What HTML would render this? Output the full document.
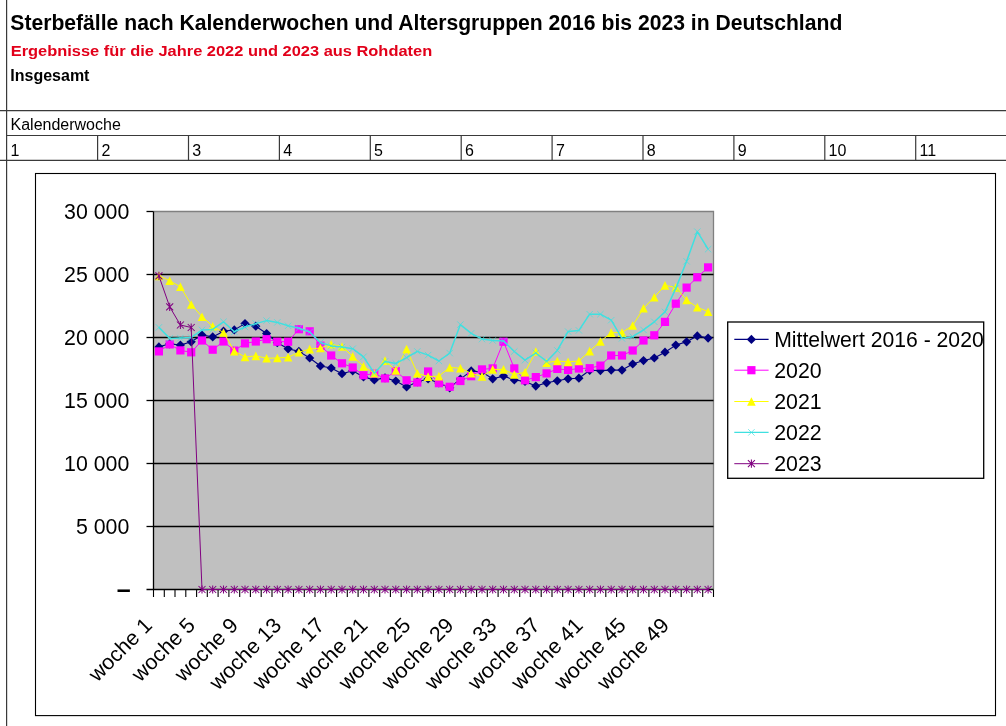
<!DOCTYPE html>
<html lang="de"><head><meta charset="utf-8"><title>Sterbefälle nach Kalenderwochen</title>
<style>html,body{margin:0;padding:0;background:#fff}body{width:1006px;height:726px;overflow:hidden;font-family:"Liberation Sans",Arial,sans-serif}svg{display:block}text{font-family:"Liberation Sans",Arial,sans-serif}</style></head><body>
<svg width="1006" height="726" viewBox="0 0 1006 726">
<rect width="1006" height="726" fill="#fff"/>
<g stroke="#3a3a3a" stroke-width="1.2" fill="none">
<line x1="6.6" y1="0" x2="6.6" y2="726"/>
<line x1="0" y1="110.6" x2="1006" y2="110.6"/>
<line x1="6.6" y1="135.5" x2="1006" y2="135.5"/>
<line x1="0" y1="160.3" x2="1006" y2="160.3"/>
<line x1="97.6" y1="135.5" x2="97.6" y2="160.3"/>
<line x1="188.5" y1="135.5" x2="188.5" y2="160.3"/>
<line x1="279.4" y1="135.5" x2="279.4" y2="160.3"/>
<line x1="370.3" y1="135.5" x2="370.3" y2="160.3"/>
<line x1="461.2" y1="135.5" x2="461.2" y2="160.3"/>
<line x1="552.1" y1="135.5" x2="552.1" y2="160.3"/>
<line x1="643" y1="135.5" x2="643" y2="160.3"/>
<line x1="733.9" y1="135.5" x2="733.9" y2="160.3"/>
<line x1="824.8" y1="135.5" x2="824.8" y2="160.3"/>
<line x1="915.7" y1="135.5" x2="915.7" y2="160.3"/>
</g>
<text x="10.3" y="30.2" font-size="22.5" textLength="832" lengthAdjust="spacingAndGlyphs" font-weight="bold" fill="#000" id="t1">Sterbefälle nach Kalenderwochen und Altersgruppen 2016 bis 2023 in Deutschland</text>
<text x="10.7" y="55.5" font-size="15" textLength="421.5" lengthAdjust="spacingAndGlyphs" font-weight="bold" fill="#e2001a" id="t2">Ergebnisse für die Jahre 2022 und 2023 aus Rohdaten</text>
<text x="10.3" y="80.8" font-size="16" font-weight="bold" fill="#000" id="t3">Insgesamt</text>
<text x="10.5" y="130.4" font-size="16" fill="#000" id="t4">Kalenderwoche</text>
<text x="10.5" y="155.5" font-size="16" fill="#000">1</text>
<text x="101.4" y="155.5" font-size="16" fill="#000">2</text>
<text x="192.3" y="155.5" font-size="16" fill="#000">3</text>
<text x="283.2" y="155.5" font-size="16" fill="#000">4</text>
<text x="374.1" y="155.5" font-size="16" fill="#000">5</text>
<text x="465" y="155.5" font-size="16" fill="#000">6</text>
<text x="555.9" y="155.5" font-size="16" fill="#000">7</text>
<text x="646.8" y="155.5" font-size="16" fill="#000">8</text>
<text x="737.7" y="155.5" font-size="16" fill="#000">9</text>
<text x="828.6" y="155.5" font-size="16" fill="#000">10</text>
<text x="919.5" y="155.5" font-size="16" fill="#000">11</text>
<rect x="35.5" y="173.5" width="960" height="542.1" fill="#fff" stroke="#000" stroke-width="1.1"/>
<rect x="153.5" y="211.5" width="560.0" height="378.0" fill="#c0c0c0"/>
<path d="M153.5 211.5H713.5V589.5" fill="none" stroke="#808080" stroke-width="1.3"/>
<g stroke="#000" stroke-width="1.3">
<line x1="153.5" y1="526.5" x2="713.5" y2="526.5"/>
<line x1="153.5" y1="463.5" x2="713.5" y2="463.5"/>
<line x1="153.5" y1="400.5" x2="713.5" y2="400.5"/>
<line x1="153.5" y1="337.5" x2="713.5" y2="337.5"/>
<line x1="153.5" y1="274.5" x2="713.5" y2="274.5"/>
</g>
<g stroke="#000" stroke-width="1.3">
<line x1="153.5" y1="211.5" x2="153.5" y2="589.5"/>
<line x1="146.5" y1="589.5" x2="713.5" y2="589.5"/>
<line x1="146.5" y1="526.5" x2="153.5" y2="526.5"/>
<line x1="146.5" y1="463.5" x2="153.5" y2="463.5"/>
<line x1="146.5" y1="400.5" x2="153.5" y2="400.5"/>
<line x1="146.5" y1="337.5" x2="153.5" y2="337.5"/>
<line x1="146.5" y1="274.5" x2="153.5" y2="274.5"/>
<line x1="146.5" y1="211.5" x2="153.5" y2="211.5"/>
<line x1="153.5" y1="589.5" x2="153.5" y2="597.0" stroke-width="1.1"/>
<line x1="164.3" y1="589.5" x2="164.3" y2="597.0" stroke-width="1.1"/>
<line x1="175" y1="589.5" x2="175" y2="597.0" stroke-width="1.1"/>
<line x1="185.8" y1="589.5" x2="185.8" y2="597.0" stroke-width="1.1"/>
<line x1="196.6" y1="589.5" x2="196.6" y2="597.0" stroke-width="1.1"/>
<line x1="207.3" y1="589.5" x2="207.3" y2="597.0" stroke-width="1.1"/>
<line x1="218.1" y1="589.5" x2="218.1" y2="597.0" stroke-width="1.1"/>
<line x1="228.9" y1="589.5" x2="228.9" y2="597.0" stroke-width="1.1"/>
<line x1="239.7" y1="589.5" x2="239.7" y2="597.0" stroke-width="1.1"/>
<line x1="250.4" y1="589.5" x2="250.4" y2="597.0" stroke-width="1.1"/>
<line x1="261.2" y1="589.5" x2="261.2" y2="597.0" stroke-width="1.1"/>
<line x1="272" y1="589.5" x2="272" y2="597.0" stroke-width="1.1"/>
<line x1="282.7" y1="589.5" x2="282.7" y2="597.0" stroke-width="1.1"/>
<line x1="293.5" y1="589.5" x2="293.5" y2="597.0" stroke-width="1.1"/>
<line x1="304.3" y1="589.5" x2="304.3" y2="597.0" stroke-width="1.1"/>
<line x1="315" y1="589.5" x2="315" y2="597.0" stroke-width="1.1"/>
<line x1="325.8" y1="589.5" x2="325.8" y2="597.0" stroke-width="1.1"/>
<line x1="336.6" y1="589.5" x2="336.6" y2="597.0" stroke-width="1.1"/>
<line x1="347.3" y1="589.5" x2="347.3" y2="597.0" stroke-width="1.1"/>
<line x1="358.1" y1="589.5" x2="358.1" y2="597.0" stroke-width="1.1"/>
<line x1="368.9" y1="589.5" x2="368.9" y2="597.0" stroke-width="1.1"/>
<line x1="379.7" y1="589.5" x2="379.7" y2="597.0" stroke-width="1.1"/>
<line x1="390.4" y1="589.5" x2="390.4" y2="597.0" stroke-width="1.1"/>
<line x1="401.2" y1="589.5" x2="401.2" y2="597.0" stroke-width="1.1"/>
<line x1="412" y1="589.5" x2="412" y2="597.0" stroke-width="1.1"/>
<line x1="422.7" y1="589.5" x2="422.7" y2="597.0" stroke-width="1.1"/>
<line x1="433.5" y1="589.5" x2="433.5" y2="597.0" stroke-width="1.1"/>
<line x1="444.3" y1="589.5" x2="444.3" y2="597.0" stroke-width="1.1"/>
<line x1="455" y1="589.5" x2="455" y2="597.0" stroke-width="1.1"/>
<line x1="465.8" y1="589.5" x2="465.8" y2="597.0" stroke-width="1.1"/>
<line x1="476.6" y1="589.5" x2="476.6" y2="597.0" stroke-width="1.1"/>
<line x1="487.3" y1="589.5" x2="487.3" y2="597.0" stroke-width="1.1"/>
<line x1="498.1" y1="589.5" x2="498.1" y2="597.0" stroke-width="1.1"/>
<line x1="508.9" y1="589.5" x2="508.9" y2="597.0" stroke-width="1.1"/>
<line x1="519.7" y1="589.5" x2="519.7" y2="597.0" stroke-width="1.1"/>
<line x1="530.4" y1="589.5" x2="530.4" y2="597.0" stroke-width="1.1"/>
<line x1="541.2" y1="589.5" x2="541.2" y2="597.0" stroke-width="1.1"/>
<line x1="552" y1="589.5" x2="552" y2="597.0" stroke-width="1.1"/>
<line x1="562.7" y1="589.5" x2="562.7" y2="597.0" stroke-width="1.1"/>
<line x1="573.5" y1="589.5" x2="573.5" y2="597.0" stroke-width="1.1"/>
<line x1="584.3" y1="589.5" x2="584.3" y2="597.0" stroke-width="1.1"/>
<line x1="595" y1="589.5" x2="595" y2="597.0" stroke-width="1.1"/>
<line x1="605.8" y1="589.5" x2="605.8" y2="597.0" stroke-width="1.1"/>
<line x1="616.6" y1="589.5" x2="616.6" y2="597.0" stroke-width="1.1"/>
<line x1="627.3" y1="589.5" x2="627.3" y2="597.0" stroke-width="1.1"/>
<line x1="638.1" y1="589.5" x2="638.1" y2="597.0" stroke-width="1.1"/>
<line x1="648.9" y1="589.5" x2="648.9" y2="597.0" stroke-width="1.1"/>
<line x1="659.7" y1="589.5" x2="659.7" y2="597.0" stroke-width="1.1"/>
<line x1="670.4" y1="589.5" x2="670.4" y2="597.0" stroke-width="1.1"/>
<line x1="681.2" y1="589.5" x2="681.2" y2="597.0" stroke-width="1.1"/>
<line x1="692" y1="589.5" x2="692" y2="597.0" stroke-width="1.1"/>
<line x1="702.7" y1="589.5" x2="702.7" y2="597.0" stroke-width="1.1"/>
<line x1="713.5" y1="589.5" x2="713.5" y2="597.0" stroke-width="1.1"/>
</g>
<g font-size="21.33" fill="#000" text-anchor="end">
<text x="129.3" y="218.8">30 000</text>
<text x="129.3" y="281.8">25 000</text>
<text x="129.3" y="344.8">20 000</text>
<text x="129.3" y="407.8">15 000</text>
<text x="129.3" y="470.8">10 000</text>
<text x="129.3" y="533.8">5 000</text>
<text x="130.6" y="598.1" font-size="25" font-weight="bold">–</text>
</g>
<g font-size="21.33" fill="#000" text-anchor="end">
<text transform="translate(153.4 626.5) rotate(-45)" x="0" y="0">woche 1</text>
<text transform="translate(196.5 626.5) rotate(-45)" x="0" y="0">woche 5</text>
<text transform="translate(239.5 626.5) rotate(-45)" x="0" y="0">woche 9</text>
<text transform="translate(282.6 626.5) rotate(-45)" x="0" y="0">woche 13</text>
<text transform="translate(325.7 626.5) rotate(-45)" x="0" y="0">woche 17</text>
<text transform="translate(368.8 626.5) rotate(-45)" x="0" y="0">woche 21</text>
<text transform="translate(411.8 626.5) rotate(-45)" x="0" y="0">woche 25</text>
<text transform="translate(454.9 626.5) rotate(-45)" x="0" y="0">woche 29</text>
<text transform="translate(498 626.5) rotate(-45)" x="0" y="0">woche 33</text>
<text transform="translate(541.1 626.5) rotate(-45)" x="0" y="0">woche 37</text>
<text transform="translate(584.2 626.5) rotate(-45)" x="0" y="0">woche 41</text>
<text transform="translate(627.2 626.5) rotate(-45)" x="0" y="0">woche 45</text>
<text transform="translate(670.3 626.5) rotate(-45)" x="0" y="0">woche 49</text>
</g>
<g>
<polyline points="158.9,346.9 169.7,343.8 180.4,345.1 191.2,341.8 202,335 212.7,336.9 223.5,331.2 234.3,329.9 245,323.6 255.8,326.2 266.6,333.5 277.3,342.7 288.1,348.8 298.9,351.4 309.7,358 320.4,366 331.2,368 342,373.7 352.7,370.8 363.5,376.9 374.3,379.9 385,377.9 395.8,381 406.6,386.9 417.3,381.8 428.1,379 438.9,382.9 449.7,387.8 460.4,379.1 471.2,370.9 482,372.1 492.7,378.8 503.5,376.1 514.3,380 525,381.4 535.8,386.1 546.6,382.8 557.3,380.8 568.1,378.8 578.9,378.2 589.7,370.3 600.4,370.6 611.2,370.1 622,370.1 632.7,364 643.5,360.6 654.3,358 665,352.2 675.8,345.1 686.6,341.8 697.3,335.9 708.1,338.1" fill="none" stroke="#000080" stroke-width="1.1" stroke-linejoin="round"/>
<path d="M158.9 342.3L163.5 346.9L158.9 351.6L154.3 346.9Z" fill="#000080"/><path d="M169.7 339.2L174.3 343.8L169.7 348.4L165.1 343.8Z" fill="#000080"/><path d="M180.4 340.5L185 345.1L180.4 349.7L175.8 345.1Z" fill="#000080"/><path d="M191.2 337.2L195.8 341.8L191.2 346.4L186.6 341.8Z" fill="#000080"/><path d="M202 330.4L206.6 335L202 339.6L197.4 335Z" fill="#000080"/><path d="M212.7 332.3L217.3 336.9L212.7 341.5L208.1 336.9Z" fill="#000080"/><path d="M223.5 326.6L228.1 331.2L223.5 335.8L218.9 331.2Z" fill="#000080"/><path d="M234.3 325.3L238.9 329.9L234.3 334.5L229.7 329.9Z" fill="#000080"/><path d="M245 319L249.6 323.6L245 328.2L240.4 323.6Z" fill="#000080"/><path d="M255.8 321.6L260.4 326.2L255.8 330.8L251.2 326.2Z" fill="#000080"/><path d="M266.6 328.9L271.2 333.5L266.6 338.1L262 333.5Z" fill="#000080"/><path d="M277.3 338.1L281.9 342.7L277.3 347.3L272.7 342.7Z" fill="#000080"/><path d="M288.1 344.2L292.7 348.8L288.1 353.4L283.5 348.8Z" fill="#000080"/><path d="M298.9 346.8L303.5 351.4L298.9 356L294.3 351.4Z" fill="#000080"/><path d="M309.7 353.4L314.3 358L309.7 362.6L305.1 358Z" fill="#000080"/><path d="M320.4 361.4L325 366L320.4 370.6L315.8 366Z" fill="#000080"/><path d="M331.2 363.4L335.8 368L331.2 372.6L326.6 368Z" fill="#000080"/><path d="M342 369.1L346.6 373.7L342 378.3L337.4 373.7Z" fill="#000080"/><path d="M352.7 366.2L357.3 370.8L352.7 375.4L348.1 370.8Z" fill="#000080"/><path d="M363.5 372.3L368.1 376.9L363.5 381.5L358.9 376.9Z" fill="#000080"/><path d="M374.3 375.3L378.9 379.9L374.3 384.5L369.7 379.9Z" fill="#000080"/><path d="M385 373.3L389.6 377.9L385 382.5L380.4 377.9Z" fill="#000080"/><path d="M395.8 376.4L400.4 381L395.8 385.6L391.2 381Z" fill="#000080"/><path d="M406.6 382.3L411.2 386.9L406.6 391.5L402 386.9Z" fill="#000080"/><path d="M417.3 377.2L421.9 381.8L417.3 386.4L412.7 381.8Z" fill="#000080"/><path d="M428.1 374.4L432.7 379L428.1 383.6L423.5 379Z" fill="#000080"/><path d="M438.9 378.3L443.5 382.9L438.9 387.5L434.3 382.9Z" fill="#000080"/><path d="M449.7 383.2L454.3 387.8L449.7 392.4L445.1 387.8Z" fill="#000080"/><path d="M460.4 374.5L465 379.1L460.4 383.7L455.8 379.1Z" fill="#000080"/><path d="M471.2 366.3L475.8 370.9L471.2 375.5L466.6 370.9Z" fill="#000080"/><path d="M482 367.5L486.6 372.1L482 376.8L477.4 372.1Z" fill="#000080"/><path d="M492.7 374.2L497.3 378.8L492.7 383.4L488.1 378.8Z" fill="#000080"/><path d="M503.5 371.5L508.1 376.1L503.5 380.7L498.9 376.1Z" fill="#000080"/><path d="M514.3 375.4L518.9 380L514.3 384.6L509.7 380Z" fill="#000080"/><path d="M525 376.8L529.6 381.4L525 386L520.4 381.4Z" fill="#000080"/><path d="M535.8 381.5L540.4 386.1L535.8 390.7L531.2 386.1Z" fill="#000080"/><path d="M546.6 378.2L551.2 382.8L546.6 387.4L542 382.8Z" fill="#000080"/><path d="M557.3 376.2L561.9 380.8L557.3 385.4L552.7 380.8Z" fill="#000080"/><path d="M568.1 374.2L572.7 378.8L568.1 383.4L563.5 378.8Z" fill="#000080"/><path d="M578.9 373.6L583.5 378.2L578.9 382.8L574.3 378.2Z" fill="#000080"/><path d="M589.7 365.7L594.3 370.3L589.7 374.9L585.1 370.3Z" fill="#000080"/><path d="M600.4 366L605 370.6L600.4 375.2L595.8 370.6Z" fill="#000080"/><path d="M611.2 365.5L615.8 370.1L611.2 374.7L606.6 370.1Z" fill="#000080"/><path d="M622 365.5L626.6 370.1L622 374.7L617.4 370.1Z" fill="#000080"/><path d="M632.7 359.4L637.3 364L632.7 368.6L628.1 364Z" fill="#000080"/><path d="M643.5 356L648.1 360.6L643.5 365.2L638.9 360.6Z" fill="#000080"/><path d="M654.3 353.4L658.9 358L654.3 362.6L649.7 358Z" fill="#000080"/><path d="M665 347.6L669.6 352.2L665 356.8L660.4 352.2Z" fill="#000080"/><path d="M675.8 340.5L680.4 345.1L675.8 349.7L671.2 345.1Z" fill="#000080"/><path d="M686.6 337.2L691.2 341.8L686.6 346.4L682 341.8Z" fill="#000080"/><path d="M697.3 331.3L701.9 335.9L697.3 340.5L692.7 335.9Z" fill="#000080"/><path d="M708.1 333.5L712.7 338.1L708.1 342.7L703.5 338.1Z" fill="#000080"/>
</g>
<g>
<polyline points="158.9,351.4 169.7,344.4 180.4,350.4 191.2,352.3 202,340.5 212.7,349.7 223.5,341.5 234.3,350.6 245,343.4 255.8,341.5 266.6,339.2 277.3,341.7 288.1,341.7 298.9,329.2 309.7,331.3 320.4,345.7 331.2,355.5 342,363.3 352.7,367.5 363.5,375.2 374.3,373.7 385,378.4 395.8,371.2 406.6,380.3 417.3,382.5 428.1,371.5 438.9,383.2 449.7,386.8 460.4,381 471.2,376.2 482,369.4 492.7,368.4 503.5,341.7 514.3,368.4 525,380.3 535.8,377.1 546.6,373.4 557.3,368.9 568.1,369.9 578.9,368.5 589.7,368.2 600.4,365.6 611.2,355.5 622,355.5 632.7,350.5 643.5,340.5 654.3,335.3 665,321.9 675.8,303.7 686.6,287.6 697.3,277.3 708.1,267.4" fill="none" stroke="#ff00ff" stroke-width="1.0" stroke-linejoin="round"/>
<rect x="154.8" y="347.3" width="8.2" height="8.2" fill="#ff00ff"/><rect x="165.6" y="340.3" width="8.2" height="8.2" fill="#ff00ff"/><rect x="176.3" y="346.3" width="8.2" height="8.2" fill="#ff00ff"/><rect x="187.1" y="348.2" width="8.2" height="8.2" fill="#ff00ff"/><rect x="197.9" y="336.4" width="8.2" height="8.2" fill="#ff00ff"/><rect x="208.6" y="345.6" width="8.2" height="8.2" fill="#ff00ff"/><rect x="219.4" y="337.4" width="8.2" height="8.2" fill="#ff00ff"/><rect x="230.2" y="346.5" width="8.2" height="8.2" fill="#ff00ff"/><rect x="240.9" y="339.3" width="8.2" height="8.2" fill="#ff00ff"/><rect x="251.7" y="337.4" width="8.2" height="8.2" fill="#ff00ff"/><rect x="262.5" y="335.1" width="8.2" height="8.2" fill="#ff00ff"/><rect x="273.2" y="337.6" width="8.2" height="8.2" fill="#ff00ff"/><rect x="284" y="337.6" width="8.2" height="8.2" fill="#ff00ff"/><rect x="294.8" y="325.1" width="8.2" height="8.2" fill="#ff00ff"/><rect x="305.6" y="327.2" width="8.2" height="8.2" fill="#ff00ff"/><rect x="316.3" y="341.6" width="8.2" height="8.2" fill="#ff00ff"/><rect x="327.1" y="351.4" width="8.2" height="8.2" fill="#ff00ff"/><rect x="337.9" y="359.2" width="8.2" height="8.2" fill="#ff00ff"/><rect x="348.6" y="363.4" width="8.2" height="8.2" fill="#ff00ff"/><rect x="359.4" y="371.1" width="8.2" height="8.2" fill="#ff00ff"/><rect x="370.2" y="369.6" width="8.2" height="8.2" fill="#ff00ff"/><rect x="380.9" y="374.3" width="8.2" height="8.2" fill="#ff00ff"/><rect x="391.7" y="367.1" width="8.2" height="8.2" fill="#ff00ff"/><rect x="402.5" y="376.2" width="8.2" height="8.2" fill="#ff00ff"/><rect x="413.2" y="378.4" width="8.2" height="8.2" fill="#ff00ff"/><rect x="424" y="367.4" width="8.2" height="8.2" fill="#ff00ff"/><rect x="434.8" y="379.1" width="8.2" height="8.2" fill="#ff00ff"/><rect x="445.6" y="382.7" width="8.2" height="8.2" fill="#ff00ff"/><rect x="456.3" y="376.9" width="8.2" height="8.2" fill="#ff00ff"/><rect x="467.1" y="372.1" width="8.2" height="8.2" fill="#ff00ff"/><rect x="477.9" y="365.3" width="8.2" height="8.2" fill="#ff00ff"/><rect x="488.6" y="364.3" width="8.2" height="8.2" fill="#ff00ff"/><rect x="499.4" y="337.6" width="8.2" height="8.2" fill="#ff00ff"/><rect x="510.2" y="364.3" width="8.2" height="8.2" fill="#ff00ff"/><rect x="520.9" y="376.2" width="8.2" height="8.2" fill="#ff00ff"/><rect x="531.7" y="373" width="8.2" height="8.2" fill="#ff00ff"/><rect x="542.5" y="369.3" width="8.2" height="8.2" fill="#ff00ff"/><rect x="553.2" y="364.8" width="8.2" height="8.2" fill="#ff00ff"/><rect x="564" y="365.8" width="8.2" height="8.2" fill="#ff00ff"/><rect x="574.8" y="364.4" width="8.2" height="8.2" fill="#ff00ff"/><rect x="585.6" y="364.1" width="8.2" height="8.2" fill="#ff00ff"/><rect x="596.3" y="361.5" width="8.2" height="8.2" fill="#ff00ff"/><rect x="607.1" y="351.4" width="8.2" height="8.2" fill="#ff00ff"/><rect x="617.9" y="351.4" width="8.2" height="8.2" fill="#ff00ff"/><rect x="628.6" y="346.4" width="8.2" height="8.2" fill="#ff00ff"/><rect x="639.4" y="336.4" width="8.2" height="8.2" fill="#ff00ff"/><rect x="650.2" y="331.2" width="8.2" height="8.2" fill="#ff00ff"/><rect x="660.9" y="317.8" width="8.2" height="8.2" fill="#ff00ff"/><rect x="671.7" y="299.6" width="8.2" height="8.2" fill="#ff00ff"/><rect x="682.5" y="283.5" width="8.2" height="8.2" fill="#ff00ff"/><rect x="693.2" y="273.2" width="8.2" height="8.2" fill="#ff00ff"/><rect x="704" y="263.3" width="8.2" height="8.2" fill="#ff00ff"/>
</g>
<g>
<polyline points="158.9,275.9 169.7,280.7 180.4,286.8 191.2,304.5 202,316.7 212.7,326.3 223.5,332.5 234.3,351.1 245,357 255.8,355.9 266.6,358.2 277.3,358 288.1,357.2 298.9,352.2 309.7,349.1 320.4,348 331.2,344.3 342,346.5 352.7,356.4 363.5,366.4 374.3,373.3 385,360.6 395.8,370.4 406.6,349 417.3,373.3 428.1,376.6 438.9,376.1 449.7,367.5 460.4,368.2 471.2,373.3 482,376.4 492.7,369.4 503.5,369.4 514.3,374.5 525,372.3 535.8,351.5 546.6,362.6 557.3,361 568.1,361.9 578.9,361 589.7,351.1 600.4,341.5 611.2,332.6 622,332.6 632.7,325.5 643.5,308.3 654.3,297.2 665,285.4 675.8,287.4 686.6,300 697.3,307.3 708.1,311.7" fill="none" stroke="#ffff00" stroke-width="1.0" stroke-linejoin="round"/>
<path d="M158.9 271.6L163.2 280.2L154.6 280.2Z" fill="#ffff00"/><path d="M169.7 276.4L174 285L165.4 285Z" fill="#ffff00"/><path d="M180.4 282.5L184.7 291.1L176.1 291.1Z" fill="#ffff00"/><path d="M191.2 300.2L195.5 308.8L186.9 308.8Z" fill="#ffff00"/><path d="M202 312.4L206.3 321L197.7 321Z" fill="#ffff00"/><path d="M212.7 322L217 330.6L208.4 330.6Z" fill="#ffff00"/><path d="M223.5 328.2L227.8 336.8L219.2 336.8Z" fill="#ffff00"/><path d="M234.3 346.8L238.6 355.4L230 355.4Z" fill="#ffff00"/><path d="M245 352.7L249.3 361.3L240.7 361.3Z" fill="#ffff00"/><path d="M255.8 351.6L260.1 360.2L251.5 360.2Z" fill="#ffff00"/><path d="M266.6 353.9L270.9 362.5L262.3 362.5Z" fill="#ffff00"/><path d="M277.3 353.7L281.6 362.3L273 362.3Z" fill="#ffff00"/><path d="M288.1 352.9L292.4 361.5L283.8 361.5Z" fill="#ffff00"/><path d="M298.9 347.9L303.2 356.5L294.6 356.5Z" fill="#ffff00"/><path d="M309.7 344.8L314 353.4L305.4 353.4Z" fill="#ffff00"/><path d="M320.4 343.7L324.7 352.3L316.1 352.3Z" fill="#ffff00"/><path d="M331.2 340L335.5 348.6L326.9 348.6Z" fill="#ffff00"/><path d="M342 342.2L346.3 350.8L337.7 350.8Z" fill="#ffff00"/><path d="M352.7 352.1L357 360.7L348.4 360.7Z" fill="#ffff00"/><path d="M363.5 362.1L367.8 370.7L359.2 370.7Z" fill="#ffff00"/><path d="M374.3 369L378.6 377.6L370 377.6Z" fill="#ffff00"/><path d="M385 356.3L389.3 364.9L380.7 364.9Z" fill="#ffff00"/><path d="M395.8 366.1L400.1 374.7L391.5 374.7Z" fill="#ffff00"/><path d="M406.6 344.7L410.9 353.3L402.3 353.3Z" fill="#ffff00"/><path d="M417.3 369L421.6 377.6L413 377.6Z" fill="#ffff00"/><path d="M428.1 372.3L432.4 380.9L423.8 380.9Z" fill="#ffff00"/><path d="M438.9 371.8L443.2 380.4L434.6 380.4Z" fill="#ffff00"/><path d="M449.7 363.2L454 371.8L445.4 371.8Z" fill="#ffff00"/><path d="M460.4 363.9L464.7 372.5L456.1 372.5Z" fill="#ffff00"/><path d="M471.2 369L475.5 377.6L466.9 377.6Z" fill="#ffff00"/><path d="M482 372.1L486.3 380.7L477.7 380.7Z" fill="#ffff00"/><path d="M492.7 365.1L497 373.7L488.4 373.7Z" fill="#ffff00"/><path d="M503.5 365.1L507.8 373.7L499.2 373.7Z" fill="#ffff00"/><path d="M514.3 370.2L518.6 378.8L510 378.8Z" fill="#ffff00"/><path d="M525 368L529.3 376.6L520.7 376.6Z" fill="#ffff00"/><path d="M535.8 347.2L540.1 355.8L531.5 355.8Z" fill="#ffff00"/><path d="M546.6 358.3L550.9 366.9L542.3 366.9Z" fill="#ffff00"/><path d="M557.3 356.7L561.6 365.3L553 365.3Z" fill="#ffff00"/><path d="M568.1 357.6L572.4 366.2L563.8 366.2Z" fill="#ffff00"/><path d="M578.9 356.7L583.2 365.3L574.6 365.3Z" fill="#ffff00"/><path d="M589.7 346.8L594 355.4L585.4 355.4Z" fill="#ffff00"/><path d="M600.4 337.2L604.7 345.8L596.1 345.8Z" fill="#ffff00"/><path d="M611.2 328.3L615.5 336.9L606.9 336.9Z" fill="#ffff00"/><path d="M622 328.3L626.3 336.9L617.7 336.9Z" fill="#ffff00"/><path d="M632.7 321.2L637 329.8L628.4 329.8Z" fill="#ffff00"/><path d="M643.5 304L647.8 312.6L639.2 312.6Z" fill="#ffff00"/><path d="M654.3 292.9L658.6 301.5L650 301.5Z" fill="#ffff00"/><path d="M665 281.1L669.3 289.7L660.7 289.7Z" fill="#ffff00"/><path d="M675.8 283.1L680.1 291.7L671.5 291.7Z" fill="#ffff00"/><path d="M686.6 295.7L690.9 304.3L682.3 304.3Z" fill="#ffff00"/><path d="M697.3 303L701.6 311.6L693 311.6Z" fill="#ffff00"/><path d="M708.1 307.4L712.4 316L703.8 316Z" fill="#ffff00"/>
</g>
<g>
<polyline points="158.9,327.4 169.7,338.4 180.4,338.1 191.2,337.6 202,329.9 212.7,329.4 223.5,321.8 234.3,331.8 245,327 255.8,323.6 266.6,320.6 277.3,322.4 288.1,325.8 298.9,328.2 309.7,332 320.4,342.5 331.2,345.9 342,346.9 352.7,348.7 363.5,356.8 374.3,373.2 385,361.5 395.8,363.5 406.6,357.7 417.3,351.4 428.1,355.1 438.9,361 449.7,353.1 460.4,324.6 471.2,333.3 482,339.1 492.7,340.5 503.5,340.9 514.3,351.5 525,360.2 535.8,353 546.6,361.4 557.3,350.4 568.1,331.6 578.9,330.4 589.7,314.2 600.4,314.2 611.2,320.2 622,338.4 632.7,336.7 643.5,329.9 654.3,321.8 665,311.9 675.8,288.4 686.6,261.3 697.3,231.6 708.1,249.2" fill="none" stroke="#3fe0e0" stroke-width="1.5" stroke-linejoin="round"/>
<path d="M155.7 324.2L162.1 330.6M155.7 330.6L162.1 324.2" stroke="#3fe0e0" stroke-width="0.7" fill="none"/><path d="M166.5 335.2L172.9 341.6M166.5 341.6L172.9 335.2" stroke="#3fe0e0" stroke-width="0.7" fill="none"/><path d="M177.2 334.9L183.6 341.3M177.2 341.3L183.6 334.9" stroke="#3fe0e0" stroke-width="0.7" fill="none"/><path d="M188 334.4L194.4 340.8M188 340.8L194.4 334.4" stroke="#3fe0e0" stroke-width="0.7" fill="none"/><path d="M198.8 326.7L205.2 333.1M198.8 333.1L205.2 326.7" stroke="#3fe0e0" stroke-width="0.7" fill="none"/><path d="M209.5 326.2L215.9 332.6M209.5 332.6L215.9 326.2" stroke="#3fe0e0" stroke-width="0.7" fill="none"/><path d="M220.3 318.6L226.7 324.9M220.3 324.9L226.7 318.6" stroke="#3fe0e0" stroke-width="0.7" fill="none"/><path d="M231.1 328.6L237.5 335M231.1 335L237.5 328.6" stroke="#3fe0e0" stroke-width="0.7" fill="none"/><path d="M241.8 323.8L248.2 330.2M241.8 330.2L248.2 323.8" stroke="#3fe0e0" stroke-width="0.7" fill="none"/><path d="M252.6 320.4L259 326.8M252.6 326.8L259 320.4" stroke="#3fe0e0" stroke-width="0.7" fill="none"/><path d="M263.4 317.4L269.8 323.8M263.4 323.8L269.8 317.4" stroke="#3fe0e0" stroke-width="0.7" fill="none"/><path d="M274.1 319.2L280.5 325.6M274.1 325.6L280.5 319.2" stroke="#3fe0e0" stroke-width="0.7" fill="none"/><path d="M284.9 322.6L291.3 329M284.9 329L291.3 322.6" stroke="#3fe0e0" stroke-width="0.7" fill="none"/><path d="M295.7 325L302.1 331.4M295.7 331.4L302.1 325" stroke="#3fe0e0" stroke-width="0.7" fill="none"/><path d="M306.5 328.8L312.9 335.2M306.5 335.2L312.9 328.8" stroke="#3fe0e0" stroke-width="0.7" fill="none"/><path d="M317.2 339.3L323.6 345.7M317.2 345.7L323.6 339.3" stroke="#3fe0e0" stroke-width="0.7" fill="none"/><path d="M328 342.7L334.4 349.1M328 349.1L334.4 342.7" stroke="#3fe0e0" stroke-width="0.7" fill="none"/><path d="M338.8 343.8L345.2 350.1M338.8 350.1L345.2 343.8" stroke="#3fe0e0" stroke-width="0.7" fill="none"/><path d="M349.5 345.5L355.9 351.9M349.5 351.9L355.9 345.5" stroke="#3fe0e0" stroke-width="0.7" fill="none"/><path d="M360.3 353.6L366.7 360M360.3 360L366.7 353.6" stroke="#3fe0e0" stroke-width="0.7" fill="none"/><path d="M371.1 370L377.5 376.4M371.1 376.4L377.5 370" stroke="#3fe0e0" stroke-width="0.7" fill="none"/><path d="M381.8 358.3L388.2 364.7M381.8 364.7L388.2 358.3" stroke="#3fe0e0" stroke-width="0.7" fill="none"/><path d="M392.6 360.3L399 366.7M392.6 366.7L399 360.3" stroke="#3fe0e0" stroke-width="0.7" fill="none"/><path d="M403.4 354.5L409.8 360.9M403.4 360.9L409.8 354.5" stroke="#3fe0e0" stroke-width="0.7" fill="none"/><path d="M414.1 348.2L420.5 354.6M414.1 354.6L420.5 348.2" stroke="#3fe0e0" stroke-width="0.7" fill="none"/><path d="M424.9 351.9L431.3 358.3M424.9 358.3L431.3 351.9" stroke="#3fe0e0" stroke-width="0.7" fill="none"/><path d="M435.7 357.8L442.1 364.2M435.7 364.2L442.1 357.8" stroke="#3fe0e0" stroke-width="0.7" fill="none"/><path d="M446.5 349.9L452.9 356.3M446.5 356.3L452.9 349.9" stroke="#3fe0e0" stroke-width="0.7" fill="none"/><path d="M457.2 321.4L463.6 327.8M457.2 327.8L463.6 321.4" stroke="#3fe0e0" stroke-width="0.7" fill="none"/><path d="M468 330.1L474.4 336.5M468 336.5L474.4 330.1" stroke="#3fe0e0" stroke-width="0.7" fill="none"/><path d="M478.8 335.9L485.2 342.3M478.8 342.3L485.2 335.9" stroke="#3fe0e0" stroke-width="0.7" fill="none"/><path d="M489.5 337.3L495.9 343.7M489.5 343.7L495.9 337.3" stroke="#3fe0e0" stroke-width="0.7" fill="none"/><path d="M500.3 337.7L506.7 344.1M500.3 344.1L506.7 337.7" stroke="#3fe0e0" stroke-width="0.7" fill="none"/><path d="M511.1 348.3L517.5 354.7M511.1 354.7L517.5 348.3" stroke="#3fe0e0" stroke-width="0.7" fill="none"/><path d="M521.8 357L528.2 363.4M521.8 363.4L528.2 357" stroke="#3fe0e0" stroke-width="0.7" fill="none"/><path d="M532.6 349.8L539 356.2M532.6 356.2L539 349.8" stroke="#3fe0e0" stroke-width="0.7" fill="none"/><path d="M543.4 358.2L549.8 364.6M543.4 364.6L549.8 358.2" stroke="#3fe0e0" stroke-width="0.7" fill="none"/><path d="M554.1 347.2L560.5 353.6M554.1 353.6L560.5 347.2" stroke="#3fe0e0" stroke-width="0.7" fill="none"/><path d="M564.9 328.4L571.3 334.8M564.9 334.8L571.3 328.4" stroke="#3fe0e0" stroke-width="0.7" fill="none"/><path d="M575.7 327.2L582.1 333.6M575.7 333.6L582.1 327.2" stroke="#3fe0e0" stroke-width="0.7" fill="none"/><path d="M586.5 311L592.9 317.4M586.5 317.4L592.9 311" stroke="#3fe0e0" stroke-width="0.7" fill="none"/><path d="M597.2 311L603.6 317.4M597.2 317.4L603.6 311" stroke="#3fe0e0" stroke-width="0.7" fill="none"/><path d="M608 317L614.4 323.4M608 323.4L614.4 317" stroke="#3fe0e0" stroke-width="0.7" fill="none"/><path d="M618.8 335.2L625.2 341.6M618.8 341.6L625.2 335.2" stroke="#3fe0e0" stroke-width="0.7" fill="none"/><path d="M629.5 333.5L635.9 339.9M629.5 339.9L635.9 333.5" stroke="#3fe0e0" stroke-width="0.7" fill="none"/><path d="M640.3 326.7L646.7 333.1M640.3 333.1L646.7 326.7" stroke="#3fe0e0" stroke-width="0.7" fill="none"/><path d="M651.1 318.6L657.5 325M651.1 325L657.5 318.6" stroke="#3fe0e0" stroke-width="0.7" fill="none"/><path d="M661.8 308.7L668.2 315.1M661.8 315.1L668.2 308.7" stroke="#3fe0e0" stroke-width="0.7" fill="none"/><path d="M672.6 285.2L679 291.6M672.6 291.6L679 285.2" stroke="#3fe0e0" stroke-width="0.7" fill="none"/><path d="M683.4 258.1L689.8 264.5M683.4 264.5L689.8 258.1" stroke="#3fe0e0" stroke-width="0.7" fill="none"/><path d="M694.1 228.4L700.5 234.8M694.1 234.8L700.5 228.4" stroke="#3fe0e0" stroke-width="0.7" fill="none"/><path d="M704.9 246L711.3 252.4M704.9 252.4L711.3 246" stroke="#3fe0e0" stroke-width="0.7" fill="none"/>
</g>
<g>
<polyline points="158.9,275.8 169.7,306.8 180.4,325 191.2,327.5 202,589.5 212.7,589.5 223.5,589.5 234.3,589.5 245,589.5 255.8,589.5 266.6,589.5 277.3,589.5 288.1,589.5 298.9,589.5 309.7,589.5 320.4,589.5 331.2,589.5 342,589.5 352.7,589.5 363.5,589.5 374.3,589.5 385,589.5 395.8,589.5 406.6,589.5 417.3,589.5 428.1,589.5 438.9,589.5 449.7,589.5 460.4,589.5 471.2,589.5 482,589.5 492.7,589.5 503.5,589.5 514.3,589.5 525,589.5 535.8,589.5 546.6,589.5 557.3,589.5 568.1,589.5 578.9,589.5 589.7,589.5 600.4,589.5 611.2,589.5 622,589.5 632.7,589.5 643.5,589.5 654.3,589.5 665,589.5 675.8,589.5 686.6,589.5 697.3,589.5 708.1,589.5" fill="none" stroke="#800080" stroke-width="1.0" stroke-linejoin="round"/>
<path d="M155.4 272.3L162.4 279.3M155.4 279.3L162.4 272.3M158.9 271.7L158.9 279.9" stroke="#800080" stroke-width="1.05" fill="none"/><path d="M166.2 303.3L173.2 310.3M166.2 310.3L173.2 303.3M169.7 302.7L169.7 310.9" stroke="#800080" stroke-width="1.05" fill="none"/><path d="M176.9 321.5L183.9 328.5M176.9 328.5L183.9 321.5M180.4 320.9L180.4 329.1" stroke="#800080" stroke-width="1.05" fill="none"/><path d="M187.7 324L194.7 331M187.7 331L194.7 324M191.2 323.4L191.2 331.6" stroke="#800080" stroke-width="1.05" fill="none"/><path d="M198.5 586L205.5 593M198.5 593L205.5 586M202 585.4L202 593.6" stroke="#800080" stroke-width="1.05" fill="none"/><path d="M209.2 586L216.2 593M209.2 593L216.2 586M212.7 585.4L212.7 593.6" stroke="#800080" stroke-width="1.05" fill="none"/><path d="M220 586L227 593M220 593L227 586M223.5 585.4L223.5 593.6" stroke="#800080" stroke-width="1.05" fill="none"/><path d="M230.8 586L237.8 593M230.8 593L237.8 586M234.3 585.4L234.3 593.6" stroke="#800080" stroke-width="1.05" fill="none"/><path d="M241.5 586L248.5 593M241.5 593L248.5 586M245 585.4L245 593.6" stroke="#800080" stroke-width="1.05" fill="none"/><path d="M252.3 586L259.3 593M252.3 593L259.3 586M255.8 585.4L255.8 593.6" stroke="#800080" stroke-width="1.05" fill="none"/><path d="M263.1 586L270.1 593M263.1 593L270.1 586M266.6 585.4L266.6 593.6" stroke="#800080" stroke-width="1.05" fill="none"/><path d="M273.8 586L280.8 593M273.8 593L280.8 586M277.3 585.4L277.3 593.6" stroke="#800080" stroke-width="1.05" fill="none"/><path d="M284.6 586L291.6 593M284.6 593L291.6 586M288.1 585.4L288.1 593.6" stroke="#800080" stroke-width="1.05" fill="none"/><path d="M295.4 586L302.4 593M295.4 593L302.4 586M298.9 585.4L298.9 593.6" stroke="#800080" stroke-width="1.05" fill="none"/><path d="M306.2 586L313.2 593M306.2 593L313.2 586M309.7 585.4L309.7 593.6" stroke="#800080" stroke-width="1.05" fill="none"/><path d="M316.9 586L323.9 593M316.9 593L323.9 586M320.4 585.4L320.4 593.6" stroke="#800080" stroke-width="1.05" fill="none"/><path d="M327.7 586L334.7 593M327.7 593L334.7 586M331.2 585.4L331.2 593.6" stroke="#800080" stroke-width="1.05" fill="none"/><path d="M338.5 586L345.5 593M338.5 593L345.5 586M342 585.4L342 593.6" stroke="#800080" stroke-width="1.05" fill="none"/><path d="M349.2 586L356.2 593M349.2 593L356.2 586M352.7 585.4L352.7 593.6" stroke="#800080" stroke-width="1.05" fill="none"/><path d="M360 586L367 593M360 593L367 586M363.5 585.4L363.5 593.6" stroke="#800080" stroke-width="1.05" fill="none"/><path d="M370.8 586L377.8 593M370.8 593L377.8 586M374.3 585.4L374.3 593.6" stroke="#800080" stroke-width="1.05" fill="none"/><path d="M381.5 586L388.5 593M381.5 593L388.5 586M385 585.4L385 593.6" stroke="#800080" stroke-width="1.05" fill="none"/><path d="M392.3 586L399.3 593M392.3 593L399.3 586M395.8 585.4L395.8 593.6" stroke="#800080" stroke-width="1.05" fill="none"/><path d="M403.1 586L410.1 593M403.1 593L410.1 586M406.6 585.4L406.6 593.6" stroke="#800080" stroke-width="1.05" fill="none"/><path d="M413.8 586L420.8 593M413.8 593L420.8 586M417.3 585.4L417.3 593.6" stroke="#800080" stroke-width="1.05" fill="none"/><path d="M424.6 586L431.6 593M424.6 593L431.6 586M428.1 585.4L428.1 593.6" stroke="#800080" stroke-width="1.05" fill="none"/><path d="M435.4 586L442.4 593M435.4 593L442.4 586M438.9 585.4L438.9 593.6" stroke="#800080" stroke-width="1.05" fill="none"/><path d="M446.2 586L453.2 593M446.2 593L453.2 586M449.7 585.4L449.7 593.6" stroke="#800080" stroke-width="1.05" fill="none"/><path d="M456.9 586L463.9 593M456.9 593L463.9 586M460.4 585.4L460.4 593.6" stroke="#800080" stroke-width="1.05" fill="none"/><path d="M467.7 586L474.7 593M467.7 593L474.7 586M471.2 585.4L471.2 593.6" stroke="#800080" stroke-width="1.05" fill="none"/><path d="M478.5 586L485.5 593M478.5 593L485.5 586M482 585.4L482 593.6" stroke="#800080" stroke-width="1.05" fill="none"/><path d="M489.2 586L496.2 593M489.2 593L496.2 586M492.7 585.4L492.7 593.6" stroke="#800080" stroke-width="1.05" fill="none"/><path d="M500 586L507 593M500 593L507 586M503.5 585.4L503.5 593.6" stroke="#800080" stroke-width="1.05" fill="none"/><path d="M510.8 586L517.8 593M510.8 593L517.8 586M514.3 585.4L514.3 593.6" stroke="#800080" stroke-width="1.05" fill="none"/><path d="M521.5 586L528.5 593M521.5 593L528.5 586M525 585.4L525 593.6" stroke="#800080" stroke-width="1.05" fill="none"/><path d="M532.3 586L539.3 593M532.3 593L539.3 586M535.8 585.4L535.8 593.6" stroke="#800080" stroke-width="1.05" fill="none"/><path d="M543.1 586L550.1 593M543.1 593L550.1 586M546.6 585.4L546.6 593.6" stroke="#800080" stroke-width="1.05" fill="none"/><path d="M553.8 586L560.8 593M553.8 593L560.8 586M557.3 585.4L557.3 593.6" stroke="#800080" stroke-width="1.05" fill="none"/><path d="M564.6 586L571.6 593M564.6 593L571.6 586M568.1 585.4L568.1 593.6" stroke="#800080" stroke-width="1.05" fill="none"/><path d="M575.4 586L582.4 593M575.4 593L582.4 586M578.9 585.4L578.9 593.6" stroke="#800080" stroke-width="1.05" fill="none"/><path d="M586.2 586L593.2 593M586.2 593L593.2 586M589.7 585.4L589.7 593.6" stroke="#800080" stroke-width="1.05" fill="none"/><path d="M596.9 586L603.9 593M596.9 593L603.9 586M600.4 585.4L600.4 593.6" stroke="#800080" stroke-width="1.05" fill="none"/><path d="M607.7 586L614.7 593M607.7 593L614.7 586M611.2 585.4L611.2 593.6" stroke="#800080" stroke-width="1.05" fill="none"/><path d="M618.5 586L625.5 593M618.5 593L625.5 586M622 585.4L622 593.6" stroke="#800080" stroke-width="1.05" fill="none"/><path d="M629.2 586L636.2 593M629.2 593L636.2 586M632.7 585.4L632.7 593.6" stroke="#800080" stroke-width="1.05" fill="none"/><path d="M640 586L647 593M640 593L647 586M643.5 585.4L643.5 593.6" stroke="#800080" stroke-width="1.05" fill="none"/><path d="M650.8 586L657.8 593M650.8 593L657.8 586M654.3 585.4L654.3 593.6" stroke="#800080" stroke-width="1.05" fill="none"/><path d="M661.5 586L668.5 593M661.5 593L668.5 586M665 585.4L665 593.6" stroke="#800080" stroke-width="1.05" fill="none"/><path d="M672.3 586L679.3 593M672.3 593L679.3 586M675.8 585.4L675.8 593.6" stroke="#800080" stroke-width="1.05" fill="none"/><path d="M683.1 586L690.1 593M683.1 593L690.1 586M686.6 585.4L686.6 593.6" stroke="#800080" stroke-width="1.05" fill="none"/><path d="M693.8 586L700.8 593M693.8 593L700.8 586M697.3 585.4L697.3 593.6" stroke="#800080" stroke-width="1.05" fill="none"/><path d="M704.6 586L711.6 593M704.6 593L711.6 586M708.1 585.4L708.1 593.6" stroke="#800080" stroke-width="1.05" fill="none"/>
</g>
<rect x="727.7" y="322" width="256" height="156.3" fill="#fff" stroke="#000" stroke-width="1.3"/>
<line x1="734.3" y1="339.4" x2="768.6" y2="339.4" stroke="#000080" stroke-width="1.1"/>
<path d="M751.4 334.8L756 339.4L751.4 344L746.8 339.4Z" fill="#000080"/>
<text x="774.2" y="346.9" font-size="21.33" fill="#000" textLength="209.5" lengthAdjust="spacingAndGlyphs">Mittelwert 2016 - 2020</text>
<line x1="734.3" y1="370.2" x2="768.6" y2="370.2" stroke="#ff00ff" stroke-width="1.0"/>
<rect x="747.3" y="366.1" width="8.2" height="8.2" fill="#ff00ff"/>
<text x="774.2" y="377.7" font-size="21.33" fill="#000">2020</text>
<line x1="734.3" y1="401.5" x2="768.6" y2="401.5" stroke="#ffff00" stroke-width="1.0"/>
<path d="M751.4 397.2L755.7 405.8L747.1 405.8Z" fill="#ffff00"/>
<text x="774.2" y="409" font-size="21.33" fill="#000">2021</text>
<line x1="734.3" y1="432.4" x2="768.6" y2="432.4" stroke="#3fe0e0" stroke-width="1.2"/>
<path d="M748.2 429.2L754.6 435.6M748.2 435.6L754.6 429.2" stroke="#3fe0e0" stroke-width="0.7" fill="none"/>
<text x="774.2" y="439.9" font-size="21.33" fill="#000">2022</text>
<line x1="734.3" y1="463.7" x2="768.6" y2="463.7" stroke="#800080" stroke-width="1.0"/>
<path d="M747.9 460.2L754.9 467.2M747.9 467.2L754.9 460.2M751.4 459.6L751.4 467.8" stroke="#800080" stroke-width="1.05" fill="none"/>
<text x="774.2" y="471.2" font-size="21.33" fill="#000">2023</text>
</svg></body></html>
